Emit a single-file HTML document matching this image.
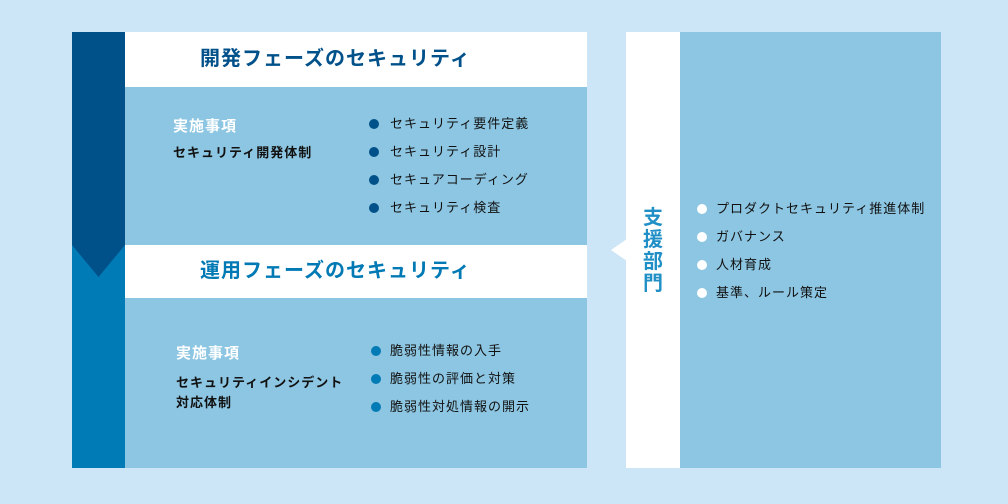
<!DOCTYPE html>
<html><head><meta charset="utf-8"><style>
body{margin:0;width:1008px;height:504px;background:#cde6f7;position:relative;overflow:hidden;font-family:"Liberation Sans","Noto Sans CJK JP",sans-serif}
.a{position:absolute}
.t{position:absolute;white-space:nowrap;line-height:1;letter-spacing:1px}
.dot{position:absolute;width:10px;height:10px;border-radius:50%}
</style></head><body>
<div class="a" style="left:72px;top:32px;width:515px;height:436px;background:#8dc6e2"></div>
<div class="a" style="left:72px;top:32px;width:53px;height:436px;background:#007bb5"></div>
<svg class="a" style="left:72px;top:32px" width="53" height="246"><polygon points="0,0 53,0 53,213 26.5,245 0,213" fill="#005089"/></svg>
<div class="a" style="left:125px;top:32px;width:462px;height:55px;background:#fff"></div>
<div class="a" style="left:125px;top:245px;width:462px;height:53px;background:#fff"></div>
<div class="t" style="left:200px;top:49px;font-size:20px;font-weight:bold;color:#00508a">開発フェーズのセキュリティ</div>
<div class="t" style="left:200px;top:261px;font-size:20px;font-weight:bold;color:#0079b4">運用フェーズのセキュリティ</div>
<div class="t" style="left:173px;top:119px;font-size:15px;font-weight:bold;color:#fff">実施事項</div>
<div class="t" style="left:173px;top:146px;font-size:13px;font-weight:bold;color:#111">セキュリティ開発体制</div>
<div class="t" style="left:176px;top:346px;font-size:15px;font-weight:bold;color:#fff">実施事項</div>
<div class="t" style="left:176px;top:373px;font-size:13px;font-weight:bold;color:#111;line-height:20px">セキュリティインシデント<br>対応体制</div>
<div class="dot" style="left:369px;top:119px;background:#005089"></div><div class="t" style="left:390px;top:117px;font-size:13px;color:#111">セキュリティ要件定義</div>
<div class="dot" style="left:369px;top:147px;background:#005089"></div><div class="t" style="left:390px;top:145px;font-size:13px;color:#111">セキュリティ設計</div>
<div class="dot" style="left:369px;top:175px;background:#005089"></div><div class="t" style="left:390px;top:173px;font-size:13px;color:#111">セキュアコーディング</div>
<div class="dot" style="left:369px;top:203px;background:#005089"></div><div class="t" style="left:390px;top:201px;font-size:13px;color:#111">セキュリティ検査</div>
<div class="dot" style="left:371px;top:346px;background:#007bb5"></div><div class="t" style="left:390px;top:344px;font-size:13px;color:#111">脆弱性情報の入手</div>
<div class="dot" style="left:371px;top:374px;background:#007bb5"></div><div class="t" style="left:390px;top:372px;font-size:13px;color:#111">脆弱性の評価と対策</div>
<div class="dot" style="left:371px;top:402px;background:#007bb5"></div><div class="t" style="left:390px;top:400px;font-size:13px;color:#111">脆弱性対処情報の開示</div>
<div class="a" style="left:626px;top:32px;width:54px;height:436px;background:#fff"></div>
<svg class="a" style="left:610px;top:238px" width="17" height="24"><polygon points="17,1 1,12 17,23" fill="#fff"/></svg>
<div class="a" style="left:680px;top:32px;width:261px;height:436px;background:#8dc6e2"></div>
<div class="t" style="left:643px;top:207px;width:20px;font-size:20px;font-weight:bold;color:#1f8fc6;white-space:normal;line-height:22px;text-align:center;letter-spacing:0">支援部門</div>
<div class="dot" style="left:697px;top:204px;background:#fff"></div><div class="t" style="left:716px;top:202px;font-size:13px;color:#111">プロダクトセキュリティ推進体制</div>
<div class="dot" style="left:697px;top:232px;background:#fff"></div><div class="t" style="left:716px;top:230px;font-size:13px;color:#111">ガバナンス</div>
<div class="dot" style="left:697px;top:260px;background:#fff"></div><div class="t" style="left:716px;top:258px;font-size:13px;color:#111">人材育成</div>
<div class="dot" style="left:697px;top:288px;background:#fff"></div><div class="t" style="left:716px;top:286px;font-size:13px;color:#111">基準、ルール策定</div>
</body></html>
